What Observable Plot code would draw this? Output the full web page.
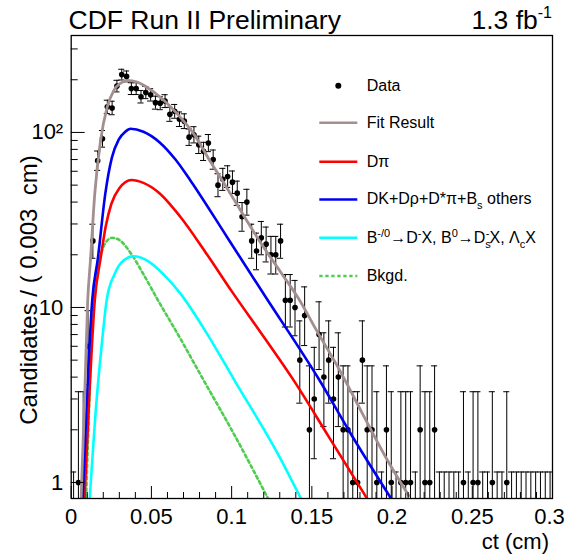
<!DOCTYPE html>
<html><head><meta charset="utf-8">
<script src="https://cdn.jsdelivr.net/npm/d3@7"></script>
<script src="https://cdn.jsdelivr.net/npm/@observablehq/plot@0.6"></script>
<style>
body{margin:0;background:#fff;font-family:"Liberation Sans",Arial,sans-serif;}
#wrap{position:relative;width:566px;height:558px;overflow:hidden;background:#fff;}
#wrap svg{position:absolute;left:0;top:0;}
.lg{position:absolute;white-space:nowrap;font-size:16px;line-height:16px;color:#000;}
.lg sup,.lg sub{font-size:11px;line-height:0;position:relative;vertical-align:baseline;}
.lg sup{top:-6px;}
.lg sub{top:5px;}
</style></head><body><div id="wrap"></div>
<script>
// ---- data ----
const binWidth = 0.003;
const counts = [0,1,1,6,24,69,92,140,138,184,
  214,209,178,178,160,169,164,148,147,151,
  127,132,119,116,94,97,85,78,87,70,
  50,54,56,52,45,33,40,24,21,25,
  23,20,20,24,11,11,10,5,9,2,
  3,7,4,5,3,4,2,2,1,1,
  5,2,2,1,0,2,1,0,1,1,
  1,0,2,1,1,2,0,0,0,0,
  0,1,0,1,1,0,0,1,0,0,
  1,0,0,0,0,0,0,0,0,0];
// Poisson 68% intervals for small counts
const poissonLo = [0,0.173,0.708,1.367,2.086,2.840,3.620,4.419,5.232,6.057,6.891,7.734,8.585];
const poissonHi = [1.148,3.300,4.638,5.918,7.163,8.382,9.584,10.77,11.95,13.11,14.27,15.42,16.56];

const fitX = [0.0062,0.0083,0.0103,0.012,0.0147,0.0183,0.0224,0.0266,0.0307,0.0349,0.0411,0.0473,0.0556,0.066,0.0764,0.0868,0.0943,0.1024,0.118,0.1304,0.1418,0.1522,0.1678,0.1813,0.195,0.2104];
const fitY = [0.82,2.9,11,18.6,44.7,90,139,174,191,198,194,181,159,128,98,68,53,40,23.5,16,11.2,7.6,4.3,2.5,1.45,0.84];
const dpiX = [0.0083,0.0112,0.0147,0.0183,0.0215,0.025,0.03,0.0376,0.045,0.055,0.068,0.084,0.1,0.12,0.1387,0.16,0.184];
const dpiY = [0.82,3.0,11,19,29,39,48,53.5,51.5,45,33,20.5,12.4,6.8,3.83,1.86,0.82];
const dkX = [0.0072,0.0098,0.0131,0.0166,0.0213,0.0254,0.0296,0.0337,0.037,0.045,0.055,0.065,0.0744,0.0972,0.1206,0.1543,0.175,0.199];
const dkY = [0.82,3.0,11,19,45,72,91,101,105,101,88,70,53,25.2,11.7,3.9,1.85,0.82];
const bdxX = [0.0116,0.0158,0.0187,0.0221,0.027,0.0328,0.0388,0.0483,0.058,0.0681,0.085,0.1013,0.1304,0.1429];
const bdxY = [0.82,2.94,5.7,11,15.5,18.6,19.6,18.3,15.3,12.0,7.0,3.9,1.37,0.82];
const bkgX = [0.0093,0.0113,0.0135,0.0178,0.0215,0.0255,0.03,0.037,0.045,0.0536,0.0682,0.0826,0.1,0.1224];
const bkgY = [0.82,3.0,11,19,23.5,25,24.3,20.5,15.5,11.2,6.6,3.83,2.0,0.82];

const xTicks = [0,0.05,0.1,0.15,0.2,0.25,0.3];
const xTickLabels = ["0","0.05","0.1","0.15","0.2","0.25","0.3"];
const xMinorTicks = [0.01,0.02,0.03,0.04,0.06,0.07,0.08,0.09,0.11,0.12,0.13,0.14,0.16,0.17,0.18,0.19,0.21,0.22,0.23,0.24,0.26,0.27,0.28,0.29];
const yTicks = [1,10,100];
const yTickLabels = ["1","10","10²"];
const yMinorTicks = [2,3,4,5,6,7,8,9,20,30,40,50,60,70,80,90,200,300];

// ---- build ----
const W = 566, H = 558, mL = 70.7, mR = 14, mT = 35, mB = 60;
const plotW = W - mL - mR, plotH = H - mT - mB;
const yMin = 0.81, yMax = 358;
const capHalf = 0.0019;

const bins = counts.map((n, i) => {
  const lo = n <= 12 ? poissonLo[n] : n - Math.sqrt(n);
  const hi = n <= 12 ? poissonHi[n] : n + Math.sqrt(n) + 1;
  return {x: (i + 0.5) * binWidth, n, lo: Math.max(lo, 0.3), hi, hasLo: lo > yMin};
});
const pts = (xs, ys) => xs.map((x, i) => ({x, y: ys[i]}));
const fmtX = d => xTickLabels[xTicks.indexOf(d)];

const lineOpts = (stroke, extra = {}) => ({x: "x", y: "y", stroke, strokeWidth: 2.6, curve: "monotone-x", clip: true, ...extra});

const chart = Plot.plot({
  width: W, height: H,
  marginLeft: mL, marginRight: mR, marginTop: mT, marginBottom: mB,
  x: {domain: [0, 0.3]},
  y: {type: "log", domain: [yMin, yMax]},
  style: {fontFamily: "'Liberation Sans', Arial, sans-serif", fontSize: "22px", background: "white", color: "black"},
  marks: [
    Plot.ruleX(bins, {x: "x", y1: "lo", y2: "hi", stroke: "black", strokeWidth: 1, clip: true}),
    Plot.ruleY(bins, {y: "hi", x1: d => d.x - capHalf, x2: d => d.x + capHalf, stroke: "black", strokeWidth: 1, clip: true}),
    Plot.ruleY(bins.filter(d => d.hasLo), {y: "lo", x1: d => d.x - capHalf, x2: d => d.x + capHalf, stroke: "black", strokeWidth: 1, clip: true}),
    Plot.dot(bins.filter(d => d.n > 0), {x: "x", y: "n", r: 2.8, fill: "black", stroke: "none", clip: true}),
    Plot.line(pts(bkgX, bkgY), lineOpts("#50cc50", {strokeWidth: 2.6, strokeDasharray: "3,3"})),
    Plot.line(pts(bdxX, bdxY), lineOpts("#00ffff")),
    Plot.line(pts(dpiX, dpiY), lineOpts("#ff0000")),
    Plot.line(pts(dkX, dkY), lineOpts("#0000f0")),
    Plot.line(pts(fitX, fitY), lineOpts("#a38f8f", {strokeWidth: 2.8})),
    Plot.ruleY(yTicks, {y: d => d, insetRight: plotW - 14, stroke: "black", strokeWidth: 1}),
    Plot.ruleY(yMinorTicks, {y: d => d, insetRight: plotW - 7, stroke: "black", strokeWidth: 1}),
    Plot.ruleX(xTicks, {x: d => d, insetTop: plotH - 12, stroke: "black", strokeWidth: 1}),
    Plot.ruleX(xMinorTicks, {x: d => d, insetTop: plotH - 6, stroke: "black", strokeWidth: 1}),
    Plot.frame({stroke: "black", strokeWidth: 1.3}),
    Plot.axisX({ticks: xTicks.slice(0, -1), tickSize: 0, tickPadding: 10, tickFormat: fmtX, label: null, fontSize: 22}),
    Plot.axisX({ticks: xTicks.slice(-1), tickSize: 0, tickPadding: 10, tickFormat: fmtX, label: null, fontSize: 22, dx: -3}),
    Plot.axisY({ticks: yTicks, tickSize: 0, tickPadding: 8, tickFormat: d => yTickLabels[yTicks.indexOf(d)], label: null, fontSize: 22})
  ]
});
const wrap = document.getElementById("wrap");
wrap.appendChild(chart);

// ---- overlay texts ----
const NS = "http://www.w3.org/2000/svg";
const ov = document.createElementNS(NS, "svg");
ov.setAttribute("width", W); ov.setAttribute("height", H);
ov.style.pointerEvents = "none";
ov.style.fontFamily = "'Liberation Sans', Arial, sans-serif";
ov.innerHTML = `
  <text x="68.5" y="29" font-size="26.5">CDF Run II Preliminary</text>
  <text x="552" y="29" font-size="26.5" text-anchor="end">1.3 fb<tspan font-size="16" dy="-11">-1</tspan></text>
  <text x="549" y="549" font-size="22" text-anchor="end">ct (cm)</text>
  <text transform="translate(37,290) rotate(-90)" font-size="24" text-anchor="middle" style="white-space:pre">Candidates / ( 0.003  cm)</text>
  <circle cx="338.3" cy="85.7" r="3" fill="black"/>
  <line x1="319.3" x2="357.3" y1="122.7" y2="122.7" stroke="#a38f8f" stroke-width="2.6"/>
  <line x1="319.3" x2="357.3" y1="161.7" y2="161.7" stroke="#ff0000" stroke-width="2.6"/>
  <line x1="319.3" x2="357.3" y1="199.5" y2="199.5" stroke="#0000f0" stroke-width="2.6"/>
  <line x1="319.3" x2="357.3" y1="237.7" y2="237.7" stroke="#00ffff" stroke-width="2.6"/>
  <line x1="319.3" x2="357.3" y1="276" y2="276" stroke="#50cc50" stroke-width="2.6" stroke-dasharray="3.3,2.7"/>
`;
wrap.appendChild(ov);

const legendRows = [
  {y: 85.7, html: "Data"},
  {y: 122.7, html: "Fit Result"},
  {y: 161.7, html: "Dπ"},
  {y: 198.5, html: "DK+Dρ+D*π+B<sub>s</sub> others"},
  {y: 237.7, html: "B<sup>-/0</sup>→D<sup>-</sup>X, B<sup>0</sup>→D<sub style='margin-right:-5px'>s</sub><sup>-</sup>X, Λ<sub>c</sub>X"},
  {y: 276, html: "Bkgd."}
];
for (const r of legendRows) {
  const d = document.createElement("div");
  d.className = "lg";
  d.style.left = "366.7px";
  d.style.top = (r.y - 7.8) + "px";
  d.innerHTML = r.html;
  wrap.appendChild(d);
}
</script></body></html>
